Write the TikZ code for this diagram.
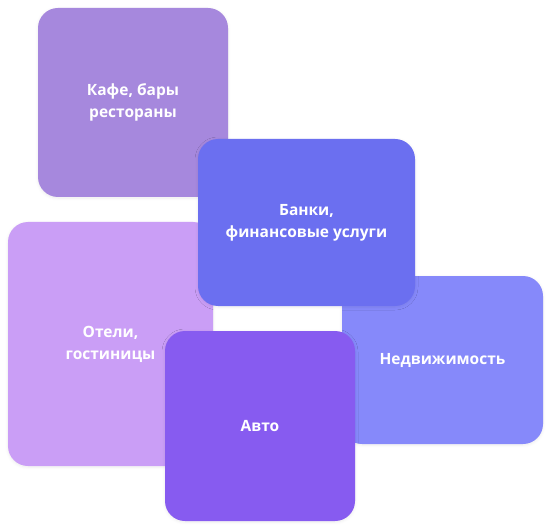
\documentclass[tikz,border=0pt]{standalone}
\usepackage{fontspec}
\setmainfont{Open Sans}
\usetikzlibrary{shadows.blur}
\definecolor{cafe}{HTML}{A688DD}
\definecolor{bank}{HTML}{6B6FF0}
\definecolor{hotel}{HTML}{CA9EF6}
\definecolor{realty}{HTML}{8689FA}
\definecolor{auto}{HTML}{875BF0}
\begin{document}
\begin{tikzpicture}[x=1pt,y=-1pt,
  card/.style={rectangle, rounded corners=20pt, inner sep=0pt, text=white,
    font=\bfseries\fontsize{15.5}{22}\selectfont, align=center,
    blur shadow={shadow xshift=0pt, shadow yshift=-1pt, shadow blur radius=3pt, shadow blur steps=6, shadow opacity=8}}]
\useasboundingbox (0,0) rectangle (551,529);
\node[card, fill=cafe, minimum width=190pt, minimum height=189pt] (cafe) at (133,102.5) {Кафе, бары\\рестораны};
\node[card, fill=hotel, minimum width=205pt, minimum height=244pt] (hotel) at (110.5,344) {Отели,\\гостиницы};
\node[card, fill=realty, minimum width=201pt, minimum height=168pt] (realty) at (442.5,360) {Недвижимость};
\node[card, fill=bank, minimum width=217pt, minimum height=167pt] (bank) at (306.5,222.5) {Банки,\\финансовые услуги};
\node[card, fill=auto, minimum width=190pt, minimum height=190pt] (auto) at (260,426) {Авто};
\end{tikzpicture}
\end{document}
